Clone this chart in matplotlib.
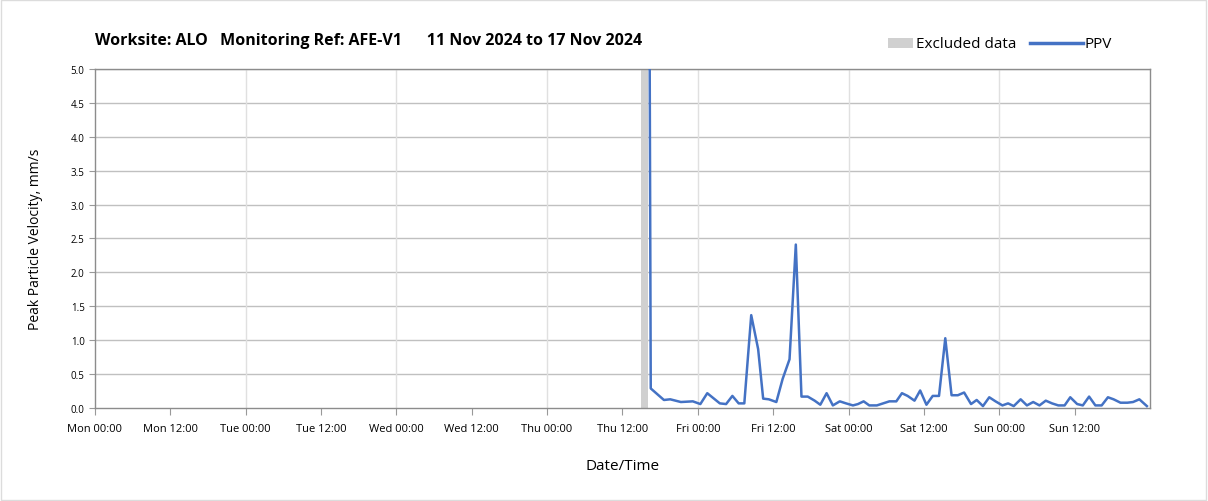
import numpy as np
import matplotlib.pyplot as plt
from matplotlib.patches import Rectangle
from matplotlib.lines import Line2D

plt.rcParams['font.family'] = ['Open Sans', 'DejaVu Sans']

# hours since Mon 11 Nov 2024 00:00
hours = [88.3, 88.5, 90.6, 91.6, 93.3, 95.2, 96.4, 97.5, 99.5, 100.5, 101.5, 102.5,
         103.4, 104.5, 105.6, 106.4, 107.3, 108.5, 109.5, 110.6, 111.6, 112.5, 113.5,
         114.6, 115.5, 116.5, 117.5, 118.6, 119.6, 120.7, 121.5, 122.4, 123.3, 124.5,
         125.5, 126.5, 127.6, 128.5, 129.4, 130.5, 131.4, 132.4, 133.4, 134.4, 135.4,
         136.4, 137.4, 138.4, 139.5, 140.4, 141.4, 142.4, 143.4, 144.5, 145.4, 146.3,
         147.4, 148.4, 149.4, 150.4, 151.4, 152.4, 153.4, 154.4, 155.3, 156.4, 157.3,
         158.3, 159.3, 160.3, 161.3, 162.2, 163.3, 164.4, 165.3, 166.3, 167.5]
ppv = [6.0, 0.29, 0.12, 0.13, 0.09, 0.10, 0.06, 0.22, 0.07, 0.06, 0.18, 0.07,
       0.07, 1.37, 0.87, 0.14, 0.13, 0.09, 0.43, 0.72, 2.41, 0.17, 0.17,
       0.11, 0.05, 0.22, 0.04, 0.10, 0.07, 0.04, 0.06, 0.10, 0.04, 0.04,
       0.07, 0.10, 0.10, 0.22, 0.18, 0.11, 0.26, 0.05, 0.18, 0.18, 1.03,
       0.19, 0.19, 0.23, 0.06, 0.12, 0.03, 0.16, 0.10, 0.04, 0.07, 0.03,
       0.13, 0.04, 0.09, 0.04, 0.11, 0.07, 0.04, 0.04, 0.16, 0.06, 0.04,
       0.17, 0.04, 0.04, 0.16, 0.13, 0.08, 0.08, 0.09, 0.13, 0.03]
excluded = (87.0, 88.0)

tick_labels = ['Mon 00:00', 'Mon 12:00', 'Tue 00:00', 'Tue 12:00', 'Wed 00:00', 'Wed 12:00',
               'Thu 00:00', 'Thu 12:00', 'Fri 00:00', 'Fri 12:00', 'Sat 00:00', 'Sat 12:00',
               'Sun 00:00', 'Sun 12:00']

W, H = 1208, 502
fig = plt.figure(figsize=(W / 100, H / 100), dpi=100)
fig.patches.append(Rectangle((0.001, 0.001), 0.997, 0.997, transform=fig.transFigure,
                             fill=False, edgecolor='#dcdcdc', linewidth=1))
ax = fig.add_axes([0.0786, 0.185, 0.8734, 0.676])

ax.axvspan(excluded[0], excluded[1], color='#d0d0d0', lw=0, zorder=1)
ax.plot(hours, ppv, color='#4472C4', lw=1.8, zorder=3)

ax.set_xlim(0, 168)
ax.set_ylim(0, 5)
ax.set_xticks(np.arange(0, 168, 12))
ax.set_xticklabels(tick_labels)
ax.set_yticks(np.arange(0, 5.01, 0.5))
ax.set_yticklabels([f'{v:.1f}' for v in np.arange(0, 5.01, 0.5)])
ax.tick_params(axis='x', labelsize=8, length=5, color='#999999', pad=6)
ax.tick_params(axis='y', labelsize=7, length=4, color='#999999')

for v in np.arange(0.5, 5.01, 0.5):
    ax.axhline(v, color='#c0c0c0', lw=1, zorder=0)
for h in np.arange(24, 168, 24):
    ax.axvline(h, color='#e0e0e0', lw=1, zorder=0)

for s in ax.spines.values():
    s.set_color('#8c8c8c')
    s.set_linewidth(1)

ax.set_ylabel('Peak Particle Velocity, mm/s', fontsize=10, labelpad=20)
ax.set_xlabel('Date/Time', fontsize=11, labelpad=17)

fig.text(95 / W, 1 - 41 / H, 'Worksite: ALO   Monitoring Ref: AFE-V1      11 Nov 2024 to 17 Nov 2024',
         fontsize=11.5, fontweight='bold', va='center')

# legend drawn by hand so each key has its own size
ly = 1 - 44 / H
fig.patches.append(Rectangle((888 / W, ly - 5 / H), 25 / W, 10 / H, transform=fig.transFigure,
                             facecolor='#d0d0d0', edgecolor='none'))
fig.text(916 / W, ly, 'Excluded data', fontsize=11, va='center')
fig.lines.append(Line2D([1030 / W, 1083 / W], [ly, ly], transform=fig.transFigure,
                        color='#4472C4', lw=2.5))
fig.text(1084 / W, ly, 'PPV', fontsize=11, va='center')

fig.savefig('out.png', dpi=100)
